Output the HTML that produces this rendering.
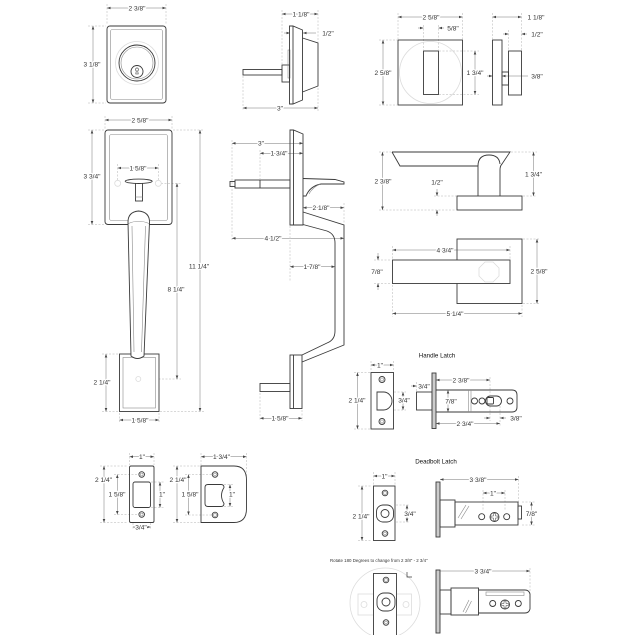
<!DOCTYPE html>
<html><head><meta charset="utf-8">
<style>
html,body{margin:0;padding:0;background:#fff}
svg{display:block}
.o{fill:none;stroke:#3a3a3a;stroke-width:.9}
.l{fill:none;stroke:#8a8a8a;stroke-width:.6}
.f{fill:none;stroke:#dcdcdc;stroke-width:.8}
.d{fill:none;stroke:#777;stroke-width:.5;marker-start:url(#a);marker-end:url(#a)}
.d1{fill:none;stroke:#777;stroke-width:.5;marker-end:url(#a)}
.e{fill:none;stroke:#b0b0b0;stroke-width:.5;stroke-dasharray:2 1.5}
text{font-family:"Liberation Sans",sans-serif;font-size:6.6px;fill:#333;text-anchor:middle;paint-order:stroke;stroke:#fff;stroke-width:2.4px;stroke-linejoin:round}
</style></head><body>
<svg width="624" height="635" viewBox="0 0 624 635" xmlns="http://www.w3.org/2000/svg">
<defs><marker id="a" viewBox="0 0 6 6" refX="6" refY="3" markerWidth="3.5" markerHeight="3.5" orient="auto-start-reverse" markerUnits="userSpaceOnUse"><path d="M0,.8L6,3L0,5.2Z" fill="#444"/></marker></defs>

<!-- ===== Deadbolt front ===== -->
<line class="e" x1="107" y1="4" x2="107" y2="25"/>
<line class="e" x1="166" y1="4" x2="166" y2="25"/>
<line class="d" x1="107" y1="8" x2="166" y2="8"/>
<text x="137" y="10.4">2 3/8"</text>
<line class="e" x1="88" y1="26" x2="106" y2="26"/>
<line class="e" x1="88" y1="103" x2="106" y2="103"/>
<line class="d" x1="93" y1="26" x2="93" y2="103"/>
<text x="92" y="66.4">3 1/8"</text>
<rect class="o" x="107" y="26" width="59" height="77" rx="3"/>
<rect class="l" x="110.5" y="29.5" width="52" height="70" rx="2"/>
<circle class="f" cx="137" cy="63" r="21.5"/>
<circle class="o" cx="137" cy="63" r="18"/>
<circle class="l" cx="137" cy="63" r="16"/>
<circle class="o" cx="137" cy="71.5" r="6"/>
<path class="o" style="stroke-width:.6" d="M135.8,74 L136.3,70.8 A1.5,1.5 0 1 1 137.7,70.8 L138.2,74 Z"/>

<!-- ===== Deadbolt side ===== -->
<line class="e" x1="282" y1="10" x2="282" y2="64"/>
<line class="e" x1="318" y1="10" x2="318" y2="42"/>
<line class="d" x1="282" y1="14" x2="318" y2="14"/>
<text x="301" y="16.4">1 1/8"</text>
<line class="d1" x1="284" y1="33" x2="290" y2="33"/>
<line class="d1" x1="316" y1="33" x2="303" y2="33"/>
<text x="328" y="35.4">1/2"</text>
<line class="e" x1="243" y1="76" x2="243" y2="111"/>
<line class="e" x1="318" y1="88" x2="318" y2="111"/>
<line class="d" x1="243" y1="108" x2="318" y2="108"/>
<text x="280" y="110.4">3"</text>
<rect class="o" x="243" y="69.5" width="39" height="5.5"/>
<rect class="o" x="282" y="65" width="7.5" height="17"/>
<rect class="l" x="288" y="50" width="2" height="28"/>
<path class="o" d="M289.5,26 H293 L302.5,30 V100 L293,104 H289.5 Z M293,26 V104"/>
<path class="o" d="M302.5,38 L318,43 V86 L302.5,92"/>

<!-- ===== Square rose front ===== -->
<line class="e" x1="398" y1="13" x2="398" y2="39"/>
<line class="e" x1="462.5" y1="13" x2="462.5" y2="39"/>
<line class="d" x1="398" y1="17" x2="462.5" y2="17"/>
<text x="431" y="19.4">2 5/8"</text>
<line class="e" x1="423.5" y1="25" x2="423.5" y2="50"/>
<line class="e" x1="438.5" y1="25" x2="438.5" y2="50"/>
<line class="d1" x1="418" y1="28" x2="423.5" y2="28"/>
<line class="d1" x1="444" y1="28" x2="438.5" y2="28"/>
<text x="453" y="30.4">5/8"</text>
<line class="e" x1="379" y1="40" x2="397" y2="40"/>
<line class="e" x1="379" y1="105" x2="397" y2="105"/>
<line class="d" x1="383" y1="40" x2="383" y2="105"/>
<text x="383" y="74.9">2 5/8"</text>
<line class="e" x1="439" y1="51" x2="479" y2="51"/>
<line class="e" x1="439" y1="94.5" x2="479" y2="94.5"/>
<line class="d" x1="475" y1="51" x2="475" y2="94.5"/>
<text x="475" y="74.9">1 3/4"</text>
<circle class="f" cx="430.5" cy="72.5" r="31"/>
<rect class="o" x="398" y="40" width="64.5" height="65"/>
<rect class="o" x="423.5" y="51" width="15" height="43.5"/>

<!-- ===== Square rose side ===== -->
<line class="e" x1="492.5" y1="13" x2="492.5" y2="39"/>
<line class="e" x1="521.5" y1="13" x2="521.5" y2="50"/>
<line class="d" x1="492.5" y1="17" x2="521.5" y2="17"/>
<text x="536" y="19.4">1 1/8"</text>
<line class="e" x1="508.5" y1="30" x2="508.5" y2="50"/>
<line class="d1" x1="503" y1="34" x2="508.5" y2="34"/>
<line class="d1" x1="527" y1="34" x2="521.5" y2="34"/>
<text x="537" y="36.4">1/2"</text>
<line class="d1" x1="487" y1="76" x2="492.5" y2="76"/>
<line class="d1" x1="528" y1="76" x2="502" y2="76"/>
<text x="537" y="78.4">3/8"</text>
<rect class="o" x="492.5" y="40" width="9.5" height="65"/>
<rect class="o" x="502" y="72" width="6.5" height="13"/>
<rect class="o" x="508.5" y="51" width="13" height="44"/>

<!-- ===== Handleset front ===== -->
<line class="e" x1="105" y1="116" x2="105" y2="129"/>
<line class="e" x1="172" y1="116" x2="172" y2="129"/>
<line class="d" x1="105" y1="120" x2="172" y2="120"/>
<text x="140" y="122.4">2 5/8"</text>
<line class="e" x1="88" y1="130" x2="104" y2="130"/>
<line class="e" x1="88" y1="224.5" x2="104" y2="224.5"/>
<line class="d" x1="92" y1="130" x2="92" y2="224.5"/>
<text x="92" y="178.4">3 3/4"</text>
<line class="e" x1="173" y1="130" x2="204" y2="130"/>
<line class="e" x1="160" y1="411.5" x2="204" y2="411.5"/>
<line class="d" x1="200" y1="130" x2="200" y2="411.5"/>
<text x="199" y="268.4">11 1/4"</text>
<line class="e" x1="161" y1="183.3" x2="181" y2="183.3"/>
<line class="e" x1="141" y1="379" x2="181" y2="379"/>
<line class="d" x1="177" y1="183.3" x2="177" y2="379"/>
<text x="176" y="291.4">8 1/4"</text>
<line class="e" x1="117.7" y1="164" x2="117.7" y2="180"/>
<line class="e" x1="158.3" y1="164" x2="158.3" y2="180"/>
<line class="d" x1="117.7" y1="168" x2="158.3" y2="168"/>
<text x="138" y="170.4">1 5/8"</text>
<rect class="o" x="105" y="130" width="67" height="94.5" rx="3"/>
<rect class="l" x="109.5" y="134.5" width="58" height="86" rx="2"/>
<circle class="f" cx="117.7" cy="183.3" r="3"/>
<circle class="f" cx="158.3" cy="183.3" r="3"/>
<rect class="o" x="135.5" y="183" width="7" height="18"/>
<line class="l" x1="135.5" y1="197" x2="142.5" y2="197"/>
<ellipse class="o" cx="138.7" cy="181.3" rx="13.5" ry="2.2" style="fill:#fff"/>
<rect class="o" x="119.5" y="354" width="39.5" height="57.5" style="fill:#fff"/>
<rect class="l" x="123" y="357.5" width="32.5" height="50.5"/>
<path class="o" style="fill:#fff" d="M128,222 Q128,212 138.5,211 Q149.5,212 149.5,222 L144,356 Q137.5,361 131,356 Z"/>
<path class="l" d="M128.5,223.5 Q138.5,219 149,223.5"/>
<path class="l" d="M132,226 L134,352 M145.5,226 L141.5,352"/>
<circle class="f" cx="138.3" cy="379" r="2.5"/>
<line class="e" x1="102" y1="354" x2="118" y2="354"/>
<line class="e" x1="102" y1="411.5" x2="118" y2="411.5"/>
<line class="d" x1="106" y1="354" x2="106" y2="411.5"/>
<text x="102" y="384.4">2 1/4"</text>
<line class="e" x1="119.5" y1="413" x2="119.5" y2="423"/>
<line class="e" x1="159" y1="413" x2="159" y2="423"/>
<line class="d" x1="119.5" y1="420" x2="159" y2="420"/>
<text x="140" y="422.4">1 5/8"</text>

<!-- ===== Handleset side ===== -->
<line class="e" x1="232" y1="140" x2="232" y2="241"/>
<line class="d" x1="232" y1="143.3" x2="303" y2="143.3"/>
<text x="261" y="145.7">3"</text>
<line class="e" x1="260" y1="150" x2="260" y2="179"/>
<line class="d" x1="260" y1="153.3" x2="303" y2="153.3"/>
<text x="279" y="155.7">1 3/4"</text>
<line class="e" x1="344" y1="203" x2="344" y2="224"/>
<line class="d" x1="303" y1="207.7" x2="344" y2="207.7"/>
<text x="321" y="210.1">2 1/8"</text>
<line class="d" x1="232" y1="238.3" x2="344" y2="238.3"/>
<text x="273" y="240.7">4 1/2"</text>
<line class="e" x1="290" y1="226" x2="290" y2="282"/>
<line class="d" x1="290" y1="266.7" x2="335" y2="266.7"/>
<text x="312" y="269.1">1 7/8"</text>
<line class="e" x1="260" y1="393" x2="260" y2="421"/>
<line class="e" x1="302" y1="410" x2="302" y2="421"/>
<line class="d" x1="260" y1="418.3" x2="302" y2="418.3"/>
<text x="280" y="420.7">1 5/8"</text>
<rect class="o" x="235" y="180" width="55" height="8"/>
<rect class="o" x="230" y="181.5" width="5" height="5"/>
<line class="o" x1="260" y1="180" x2="260" y2="188"/>
<path class="o" d="M290,130 H293.5 L303,134 V225 H290 Z M293.5,130 V225"/>
<path class="o" d="M303,178.5 L335,179.5 L344,182 L344,184 L321,184 Q310,186 306,196 L303,196"/>
<path class="l" d="M320,184 Q312,188 309,194"/>
<path class="o" d="M303,212 L344,225 V345 L302,362"/>
<path class="o" d="M303,224.5 L327,231 Q335,234 335,243 V331 Q335,340 327,343 L302,355"/>
<rect class="o" x="290" y="355" width="12" height="53.5"/>
<line class="o" x1="293.5" y1="355" x2="293.5" y2="408.5"/>
<rect class="o" x="260" y="383.5" width="30" height="8"/>

<!-- ===== Lever side ===== -->
<line class="e" x1="379" y1="152" x2="391" y2="152"/>
<line class="e" x1="379" y1="210" x2="456" y2="210"/>
<line class="d" x1="382.5" y1="152" x2="382.5" y2="210"/>
<text x="383" y="183.4">2 3/8"</text>
<line class="e" x1="434" y1="196" x2="456" y2="196"/>
<line class="d1" x1="437" y1="189" x2="437" y2="196"/>
<line class="d1" x1="437" y1="216" x2="437" y2="210"/>
<text x="437" y="184.6">1/2"</text>
<line class="e" x1="511" y1="152" x2="537" y2="152"/>
<line class="e" x1="523" y1="196" x2="537" y2="196"/>
<line class="d" x1="533.5" y1="152" x2="533.5" y2="196"/>
<text x="533.5" y="176.4">1 3/4"</text>
<path class="o" d="M392,152 H510 L502,164 Q500,166 500,170 V196 M478,196 V166 H400 L392,152"/>
<path class="o" d="M478,166 Q478,155 489,155 Q499,155 500,164"/>
<rect class="o" x="457" y="196" width="65" height="14"/>

<!-- ===== Lever front ===== -->
<line class="e" x1="392.5" y1="246" x2="392.5" y2="259"/>
<line class="e" x1="510" y1="246" x2="510" y2="259"/>
<line class="d" x1="392.5" y1="250" x2="510" y2="250"/>
<text x="445" y="252.4">4 3/4"</text>
<line class="e" x1="374" y1="260" x2="391" y2="260"/>
<line class="e" x1="374" y1="283.5" x2="391" y2="283.5"/>
<line class="d1" x1="378" y1="253" x2="378" y2="260"/>
<line class="d1" x1="378" y1="290" x2="378" y2="283.5"/>
<text x="377" y="274.2">7/8"</text>
<line class="e" x1="523" y1="239" x2="540" y2="239"/>
<line class="e" x1="523" y1="303.5" x2="540" y2="303.5"/>
<line class="d" x1="537" y1="239" x2="537" y2="303.5"/>
<text x="539" y="273.6">2 5/8"</text>
<line class="e" x1="392.5" y1="285" x2="392.5" y2="317"/>
<line class="e" x1="522" y1="305" x2="522" y2="317"/>
<line class="d" x1="392.5" y1="313.5" x2="522" y2="313.5"/>
<text x="455" y="315.9">5 1/4"</text>
<rect class="o" x="457" y="239" width="65" height="64.5"/>
<rect class="o" x="392.5" y="260" width="117.5" height="23.5" style="fill:#fff"/>
<path class="f" d="M485,262 L493,262 L499,268 L499,276 L493,282 L485,282 L479,276 L479,268 Z"/>

<!-- ===== Handle Latch ===== -->
<text x="437" y="357.6" style="font-size:6.2px;fill:#111">Handle Latch</text>
<line class="e" x1="371" y1="361" x2="371" y2="371"/>
<line class="e" x1="393.5" y1="361" x2="393.5" y2="371"/>
<line class="d" x1="371" y1="365" x2="393.5" y2="365"/>
<text x="380" y="367.4">1"</text>
<line class="e" x1="354" y1="372.5" x2="370" y2="372.5"/>
<line class="e" x1="354" y1="429" x2="370" y2="429"/>
<line class="d" x1="357.5" y1="372.5" x2="357.5" y2="429"/>
<text x="357" y="402.4">2 1/4"</text>
<line class="e" x1="394" y1="392" x2="406" y2="392"/>
<line class="e" x1="394" y1="410" x2="406" y2="410"/>
<line class="d" x1="403" y1="392" x2="403" y2="410"/>
<text x="404" y="402.4">3/4"</text>
<rect class="o" x="371" y="372.5" width="22.5" height="56.5"/>
<circle class="o" cx="382" cy="379.5" r="3"/><circle class="l" cx="382" cy="379.5" r="1.5"/>
<circle class="o" cx="382" cy="421.5" r="3"/><circle class="l" cx="382" cy="421.5" r="1.5"/>
<path class="o" d="M377,392 H383.5 A8.5,9 0 0 1 383.5,410 H377 Z"/>
<line class="e" x1="416.5" y1="382" x2="416.5" y2="391"/>
<line class="d1" x1="411" y1="386" x2="416.5" y2="386"/>
<text x="424" y="388.4">3/4"</text>
<line class="e" x1="490" y1="377" x2="490" y2="395"/>
<line class="d" x1="436" y1="380" x2="490" y2="380"/>
<text x="461" y="382.4">2 3/8"</text>
<line class="e" x1="490" y1="406" x2="490" y2="421"/>
<line class="e" x1="500" y1="406" x2="500" y2="426"/>
<line class="d1" x1="484" y1="418" x2="490" y2="418"/>
<line class="d1" x1="506" y1="418" x2="500" y2="418"/>
<text x="516" y="420.4">3/8"</text>
<line class="d" x1="436" y1="423.5" x2="500" y2="423.5"/>
<text x="465" y="425.9">2 3/4"</text>
<rect class="o" x="416.5" y="392" width="15.5" height="18"/>
<rect class="o" x="432" y="373" width="4" height="55.5" style="fill:#ccc"/>
<path class="o" d="M436,390 H512 Q517,390 517,395 V407 Q517,412 512,412 H436"/>
<line class="l" x1="468.5" y1="390" x2="468.5" y2="412"/>
<line class="l" x1="471" y1="390" x2="471" y2="412"/>
<line class="d" x1="448" y1="390" x2="448" y2="412"/>
<text x="451" y="403.4">7/8"</text>
<circle class="o" cx="474.5" cy="401" r="3"/>
<circle class="o" cx="482" cy="401" r="3"/>
<rect class="o" x="485.5" y="396" width="16" height="10" rx="5"/>
<rect class="o" x="487" y="397.5" width="6.5" height="6.5" rx="1"/>
<circle class="o" cx="510" cy="401" r="3"/>

<!-- ===== Strike plates ===== -->
<line class="e" x1="129.5" y1="453" x2="129.5" y2="465"/>
<line class="e" x1="154" y1="453" x2="154" y2="465"/>
<line class="d" x1="129.5" y1="456.7" x2="154" y2="456.7"/>
<text x="142" y="459.1">1"</text>
<line class="e" x1="100" y1="466" x2="128" y2="466"/>
<line class="e" x1="100" y1="522.5" x2="128" y2="522.5"/>
<line class="d" x1="104" y1="466" x2="104" y2="522.5"/>
<text x="103.5" y="482">2 1/4"</text>
<line class="e" x1="114" y1="474.5" x2="138" y2="474.5"/>
<line class="e" x1="114" y1="514.5" x2="138" y2="514.5"/>
<line class="d" x1="117.3" y1="474.5" x2="117.3" y2="514.5"/>
<text x="117" y="496.7">1 5/8"</text>
<line class="e" x1="151" y1="482" x2="164" y2="482"/>
<line class="e" x1="151" y1="507.5" x2="164" y2="507.5"/>
<line class="d" x1="160" y1="482" x2="160" y2="507.5"/>
<text x="162" y="496.7">1"</text>
<line class="e" x1="133" y1="523" x2="133" y2="530"/>
<line class="e" x1="150.5" y1="523" x2="150.5" y2="530"/>
<line class="d" x1="133" y1="527" x2="150.5" y2="527"/>
<text x="141" y="529.4">3/4"</text>
<rect class="o" x="129.5" y="466" width="24.5" height="56.5" rx="1.5"/>
<circle class="o" cx="141.7" cy="474.5" r="2.8"/><circle class="l" cx="141.7" cy="474.5" r="1.4"/>
<circle class="o" cx="141.7" cy="514.5" r="2.8"/><circle class="l" cx="141.7" cy="514.5" r="1.4"/>
<rect class="o" x="133" y="482" width="17.5" height="25.5" rx="2"/>

<line class="e" x1="201" y1="453" x2="201" y2="465"/>
<line class="e" x1="246.5" y1="453" x2="246.5" y2="478"/>
<line class="d" x1="201" y1="456.7" x2="246.5" y2="456.7"/>
<text x="221.5" y="459.1">1 3/4"</text>
<line class="e" x1="173" y1="466" x2="200" y2="466"/>
<line class="e" x1="173" y1="522.5" x2="200" y2="522.5"/>
<line class="d" x1="177" y1="466" x2="177" y2="522.5"/>
<text x="178" y="482">2 1/4"</text>
<line class="e" x1="185" y1="474.5" x2="212" y2="474.5"/>
<line class="e" x1="185" y1="515" x2="212" y2="515"/>
<line class="d" x1="188.5" y1="474.5" x2="188.5" y2="515"/>
<text x="190" y="496.7">1 5/8"</text>
<line class="e" x1="224" y1="484.5" x2="233" y2="484.5"/>
<line class="e" x1="224" y1="506.5" x2="233" y2="506.5"/>
<line class="d" x1="230" y1="484.5" x2="230" y2="506.5"/>
<text x="232" y="496.7">1"</text>
<path class="o" d="M201,466 H234 Q246.5,466 246.5,480 V508.5 Q246.5,522.5 234,522.5 H201 Z"/>
<circle class="o" cx="215" cy="474.5" r="2.8"/><circle class="l" cx="215" cy="474.5" r="1.4"/>
<circle class="o" cx="215" cy="515" r="2.8"/><circle class="l" cx="215" cy="515" r="1.4"/>
<path class="o" d="M208,484.5 H221 Q224,484.5 224,487.5 Q219,495.5 224,503.5 Q224,506.5 221,506.5 H208 Q205,506.5 205,503.5 V487.5 Q205,484.5 208,484.5 Z"/>

<!-- ===== Deadbolt Latch ===== -->
<text x="436" y="463.6" style="font-size:6.2px;fill:#111">Deadbolt Latch</text>
<line class="e" x1="373.5" y1="472" x2="373.5" y2="485"/>
<line class="e" x1="395" y1="472" x2="395" y2="485"/>
<line class="d" x1="373.5" y1="476" x2="395" y2="476"/>
<text x="384.5" y="478.4">1"</text>
<line class="e" x1="358" y1="486" x2="372" y2="486"/>
<line class="e" x1="358" y1="540.5" x2="372" y2="540.5"/>
<line class="d" x1="362" y1="486" x2="362" y2="540.5"/>
<text x="361" y="518.4">2 1/4"</text>
<line class="e" x1="396" y1="505" x2="410" y2="505"/>
<line class="e" x1="396" y1="522" x2="410" y2="522"/>
<line class="d" x1="407" y1="505" x2="407" y2="522"/>
<text x="410" y="515.9">3/4"</text>
<rect class="o" x="373.5" y="486" width="21.5" height="54.5"/>
<circle class="o" cx="385" cy="493" r="2.8"/><circle class="l" cx="385" cy="493" r="1.4"/>
<circle class="o" cx="385" cy="533.5" r="2.8"/><circle class="l" cx="385" cy="533.5" r="1.4"/>
<rect class="o" x="376.5" y="505" width="17" height="17" rx="6.5"/>
<circle class="o" cx="385" cy="513.5" r="4"/>

<line class="e" x1="518.5" y1="476" x2="518.5" y2="505"/>
<line class="d" x1="440" y1="479.5" x2="518.5" y2="479.5"/>
<text x="478" y="481.9">3 3/8"</text>
<line class="e" x1="483" y1="490" x2="483" y2="510"/>
<line class="e" x1="505" y1="490" x2="505" y2="510"/>
<line class="d" x1="483" y1="493" x2="505" y2="493"/>
<text x="493" y="495.4">1"</text>
<line class="e" x1="522" y1="502" x2="535" y2="502"/>
<line class="e" x1="522" y1="525" x2="535" y2="525"/>
<line class="d" x1="531.5" y1="502" x2="531.5" y2="525"/>
<text x="531.5" y="515.9">7/8"</text>
<rect class="o" x="436" y="482" width="4" height="55" style="fill:#ccc"/>
<rect class="o" x="440" y="500" width="15" height="27"/>
<rect class="o" x="455" y="502" width="63" height="23"/>
<rect class="o" x="518" y="506" width="3.5" height="13"/>
<path class="l" d="M458,518 L466,505 M461,519 L469,506"/>
<circle class="o" cx="481.7" cy="516.7" r="3"/>
<circle class="o" cx="506.7" cy="516.7" r="3"/>
<circle class="o" cx="494.5" cy="517" r="4.5"/>
<path class="o" style="stroke-width:.5" d="M493.5,513.5 h2 v2.5 h2.5 v2 h-2.5 v2.5 h-2 v-2.5 h-2.5 v-2 h2.5 z"/>

<!-- ===== Rotate section ===== -->
<text x="330" y="562" style="font-size:4.4px;text-anchor:start;stroke-width:1px">Rotate 180 Degrees to change from 2 3/8" - 2 3/4"</text>
<circle class="f" cx="385" cy="603" r="35"/>
<rect class="f" x="358" y="594" width="53.5" height="21"/>
<circle class="f" cx="364" cy="604.5" r="3"/>
<circle class="f" cx="406" cy="604.5" r="3"/>
<rect class="o" x="373.5" y="573.5" width="23" height="65" style="fill:#fff"/>
<circle class="o" cx="386" cy="580" r="2.8"/><circle class="l" cx="386" cy="580" r="1.4"/>
<circle class="o" cx="386" cy="622.5" r="2.8"/><circle class="l" cx="386" cy="622.5" r="1.4"/>
<rect class="o" x="377" y="593" width="18" height="18" rx="7"/>
<circle class="o" cx="386" cy="602" r="4"/>
<path class="o" style="stroke-width:.7" d="M407,572 V577 H412"/>

<line class="e" x1="530" y1="568" x2="530" y2="600"/>
<line class="d" x1="436" y1="571" x2="530" y2="571"/>
<text x="483" y="573.4">3 3/4"</text>
<rect class="o" x="436" y="570" width="4" height="63" style="fill:#ccc"/>
<rect class="o" x="440" y="590" width="11" height="24"/>
<rect class="o" x="451" y="588" width="27.5" height="27"/>
<path class="o" d="M478.5,590 H525 Q529,590 530,594 V609 Q529,613 525,613 H478.5"/>
<rect class="l" x="486" y="592" width="38" height="3.5"/>
<path class="l" d="M463,612 L469,600 M465.5,613 L471.5,601"/>
<circle class="o" cx="492.7" cy="603.5" r="3"/>
<circle class="o" cx="518.3" cy="603.5" r="3"/>
<circle class="o" cx="505" cy="604.5" r="4.5"/>
<path class="o" style="stroke-width:.5" d="M504,601 h2 v2.5 h2.5 v2 h-2.5 v2.5 h-2 v-2.5 h-2.5 v-2 h2.5 z"/>
</svg>
</body></html>
